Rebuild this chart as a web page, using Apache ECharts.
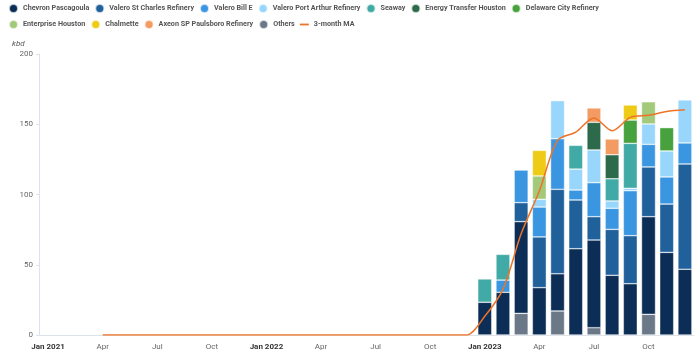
<!DOCTYPE html>
<html lang="en">
<head>
    <meta charset="UTF-8" />
    <title>kbd by destination</title>
    <script src="https://cdn.jsdelivr.net/npm/echarts@6/dist/echarts.min.js"></script>
</head>
<body style="margin:0">
<div id="main" style="width:700px;height:353px;"></div>
<script type="text/javascript">
    // months, Jan 2021 .. Dec 2023
    var months = ['2021-01','2021-02','2021-03','2021-04','2021-05','2021-06','2021-07','2021-08','2021-09','2021-10','2021-11','2021-12',
                  '2022-01','2022-02','2022-03','2022-04','2022-05','2022-06','2022-07','2022-08','2022-09','2022-10','2022-11','2022-12',
                  '2023-01','2023-02','2023-03','2023-04','2023-05','2023-06','2023-07','2023-08','2023-09','2023-10','2023-11','2023-12'];
    var monthNames = ['Jan','Feb','Mar','Apr','May','Jun','Jul','Aug','Sep','Oct','Nov','Dec'];
    var yTicks = [0, 50, 100, 150, 200];

    var N = null;
    // bars only exist from 2023 on, null = no segment
    var others       = [N,N,N,N,N,N,N,N,N,N,N,N, N,N,N,N,N,N,N,N,N,N,N,N, N,N,15.4,N,17.1,N,5.2,N,N,14.7,N,N];
    var chevron      = [N,N,N,N,N,N,N,N,N,N,N,N, N,N,N,N,N,N,N,N,N,N,N,N, 23.3,30.4,65.3,33.7,26.5,61.4,62.4,42.5,36.5,69.5,58.8,46.8];
    var stCharles    = [N,N,N,N,N,N,N,N,N,N,N,N, N,N,N,N,N,N,N,N,N,N,N,N, N,N,13.5,36.1,60.1,34.7,16.6,32.7,34.2,35.4,34.4,74.9];
    var billE        = [N,N,N,N,N,N,N,N,N,N,N,N, N,N,N,N,N,N,N,N,N,N,N,N, N,8.7,23.2,21.3,36.0,7.1,24.2,15.0,32.0,16.1,19.3,15.0];
    var portArthur   = [N,N,N,N,N,N,N,N,N,N,N,N, N,N,N,N,N,N,N,N,N,N,N,N, N,N,N,5.5,27.1,14.9,23.3,5.2,1.7,14.5,18.5,30.6];
    var seaway       = [N,N,N,N,N,N,N,N,N,N,N,N, N,N,N,N,N,N,N,N,N,N,N,N, 16.6,18.3,N,N,N,16.9,N,15.8,32.0,N,N,N];
    var energyTr     = [N,N,N,N,N,N,N,N,N,N,N,N, N,N,N,N,N,N,N,N,N,N,N,N, N,N,N,N,N,N,19.7,17.1,N,N,N,N];
    var delaware     = [N,N,N,N,N,N,N,N,N,N,N,N, N,N,N,N,N,N,N,N,N,N,N,N, N,N,N,N,N,N,N,N,16.6,N,16.6,N];
    var enterprise   = [N,N,N,N,N,N,N,N,N,N,N,N, N,N,N,N,N,N,N,N,N,N,N,N, N,N,N,16.6,N,N,N,N,N,15.8,N,N];
    var chalmette    = [N,N,N,N,N,N,N,N,N,N,N,N, N,N,N,N,N,N,N,N,N,N,N,N, N,N,N,18.2,N,N,N,N,10.7,N,N,N];
    var axeon        = [N,N,N,N,N,N,N,N,N,N,N,N, N,N,N,N,N,N,N,N,N,N,N,N, N,N,N,N,N,N,10.2,11.2,N,N,N,N];
    var ma3          = [N,N,N,0,0,0,0,0,0,0,0,0, 0,0,0,0,0,0,0,0,0,0,0,0, 13.3,32.5,72.0,102.5,138.5,144.4,154.5,145.4,154.9,156.4,159.1,160.3];

    // stack order bottom -> top
    var stackDefs = [
        ['Others', others, '#6b7888'],
        ['Chevron Pascagoula', chevron, '#0c2e56'],
        ['Valero St Charles Refinery', stCharles, '#21619b'],
        ['Valero Bill E', billE, '#3b96e2'],
        ['Valero Port Arthur Refinery', portArthur, '#98d6fc'],
        ['Seaway', seaway, '#41aaa6'],
        ['Energy Transfer Houston', energyTr, '#2c6a4b'],
        ['Delaware City Refinery', delaware, '#47a23e'],
        ['Enterprise Houston', enterprise, '#a3c97b'],
        ['Chalmette', chalmette, '#eecb17'],
        ['Axeon SP Paulsboro Refinery', axeon, '#f29b63']
    ];
    var legendOrder = ['Chevron Pascagoula','Valero St Charles Refinery','Valero Bill E','Valero Port Arthur Refinery','Seaway',
                       'Energy Transfer Houston','Delaware City Refinery','Enterprise Houston','Chalmette','Axeon SP Paulsboro Refinery','Others'];

    var series = stackDefs.map(function (d) {
        return {
            name: d[0],
            type: 'bar',
            stack: 'total',
            barWidth: 14,
            data: d[1],
            itemStyle: { color: d[2], borderColor: 'rgba(255,255,255,0.7)', borderWidth: 0.6 }
        };
    });
    series.push({
        name: '3-month MA',
        type: 'line',
        data: ma3,
        smooth: 0.3,
        showSymbol: false,
        z: 10,
        lineStyle: { color: '#ee7326', width: 1.5 },
        itemStyle: { color: '#ee7326' }
    });

    var legendData = legendOrder.map(function (n) { return { name: n, icon: 'circle' }; });
    legendData.push({ name: '3-month MA', icon: 'path://M0,4 L10,4 L10,6 L0,6 Z' });

    var myChart = echarts.init(document.getElementById('main'));
    var option = {
        animation: false,
        textStyle: { fontFamily: 'Roboto' },
        title: {
            text: 'kbd', left: 7, top: 35,
            textStyle: { fontSize: 8, fontStyle: 'italic', fontWeight: 'normal', color: '#555' }
        },
        legend: {
            data: legendData,
            left: 3, top: -2, width: 640,
            itemWidth: 9, itemHeight: 9, itemGap: 5,
            textStyle: { fontSize: 7.2, color: '#555', fontWeight: 'bold', padding: [0, 9, 0, 0] }
        },
        grid: { left: 39, right: 6, top: 54, bottom: 18 },
        xAxis: {
            type: 'category',
            data: months,
            axisLine: { lineStyle: { color: '#dde3ea' } },
            axisTick: { interval: 0, lineStyle: { color: '#dde3ea' }, length: 3 },
            axisLabel: {
                interval: 2,
                margin: 8,
                fontSize: 8,
                color: '#666',
                formatter: function (v) {
                    var p = v.split('-');
                    var m = +p[1] - 1;
                    if (m === 0) return '{b|Jan ' + p[0] + '}';
                    return monthNames[m];
                },
                rich: { b: { fontWeight: 'bold', color: '#333', fontSize: 8 } }
            }
        },
        yAxis: {
            type: 'value',
            min: yTicks[0], max: yTicks[yTicks.length - 1], interval: 50,
            splitLine: { show: false },
            axisLine: { show: true, lineStyle: { color: '#dde3ea' } },
            axisTick: { show: true, length: 3, lineStyle: { color: '#dde3ea' } },
            axisLabel: { fontSize: 8, color: '#666', margin: 6 }
        },
        series: series
    };
    myChart.setOption(option);
</script>
</body>
</html>
